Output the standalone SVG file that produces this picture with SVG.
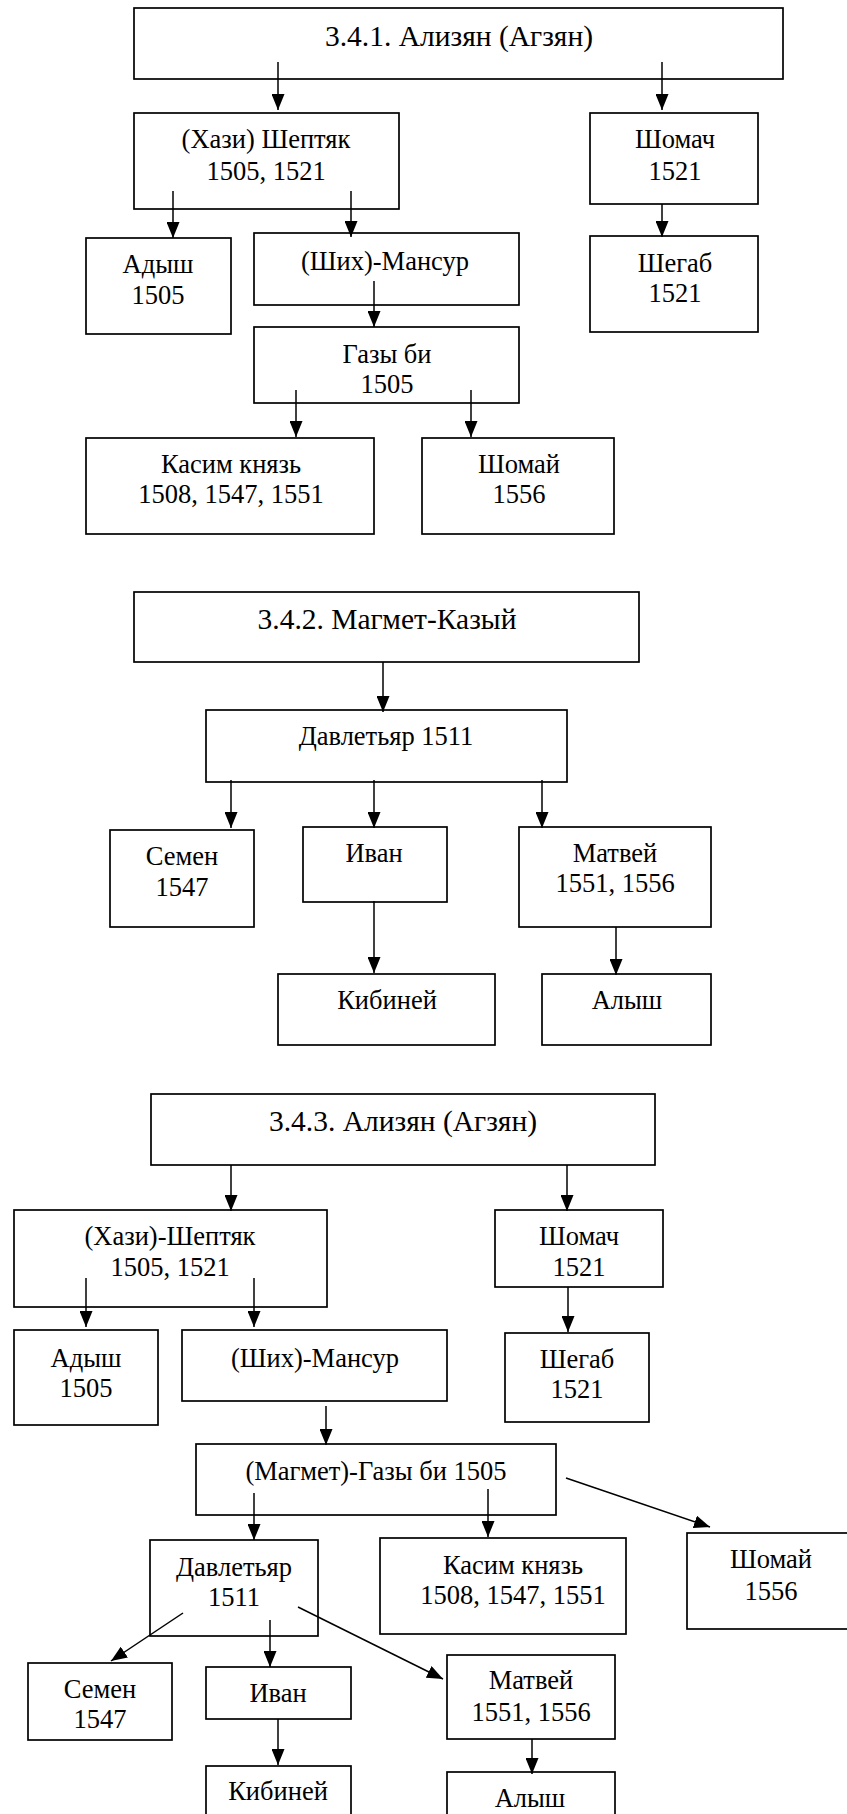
<svg xmlns="http://www.w3.org/2000/svg" width="847" height="1814" viewBox="0 0 847 1814">
<defs>
<marker id="ah" viewBox="0 0 16 13" refX="16" refY="6.5" markerWidth="16" markerHeight="13" markerUnits="userSpaceOnUse" orient="auto">
<path d="M0,0 L16,6.5 L0,13 z" fill="#000"/>
</marker>
<style>
rect{fill:#fff;stroke:#000;stroke-width:1.7}
text{font-family:'Liberation Serif',serif;font-size:26.5px;text-anchor:middle;fill:#000}
text.t{font-size:29.5px}
#connectors line{stroke:#000;stroke-width:1.5;marker-end:url(#ah)}
</style>
</defs>
<rect x="0" y="0" width="847" height="1814" style="fill:#fff;stroke:none"/>
<g font-family="Liberation Serif, serif">
<g id="n1"><rect x="134" y="8" width="649" height="71"/><text class="t" x="459" y="46">3.4.1. Ализян (Агзян)</text></g>
<g id="n2"><rect x="134" y="113" width="265" height="96"/><text x="266" y="148">(Хази) Шептяк</text><text x="266" y="180">1505, 1521</text></g>
<g id="n3"><rect x="590" y="113" width="168" height="91"/><text x="675" y="148">Шомач</text><text x="675" y="180">1521</text></g>
<g id="n4"><rect x="86" y="238" width="145" height="96"/><text x="158" y="273">Адыш</text><text x="158" y="304">1505</text></g>
<g id="n5"><rect x="254" y="233" width="265" height="72"/><text x="385" y="270">(Ших)-Мансур</text></g>
<g id="n6"><rect x="590" y="236" width="168" height="96"/><text x="675" y="272">Шегаб</text><text x="675" y="302">1521</text></g>
<g id="n7"><rect x="254" y="327" width="265" height="76"/><text x="387" y="363">Газы би</text><text x="387" y="393">1505</text></g>
<g id="n8"><rect x="86" y="438" width="288" height="96"/><text x="231" y="473">Касим князь</text><text x="231" y="503">1508, 1547, 1551</text></g>
<g id="n9"><rect x="422" y="438" width="192" height="96"/><text x="519" y="473">Шомай</text><text x="519" y="503">1556</text></g>

<g id="m1"><rect x="134" y="592" width="505" height="70"/><text class="t" x="387" y="629">3.4.2. Магмет-Казый</text></g>
<g id="m2"><rect x="206" y="710" width="361" height="72"/><text x="386" y="745">Давлетьяр 1511</text></g>
<g id="m3"><rect x="110" y="830" width="144" height="97"/><text x="182" y="865">Семен</text><text x="182" y="896">1547</text></g>
<g id="m4"><rect x="303" y="827" width="144" height="75"/><text x="374" y="862">Иван</text></g>
<g id="m5"><rect x="519" y="827" width="192" height="100"/><text x="615" y="862">Матвей</text><text x="615" y="892">1551, 1556</text></g>
<g id="m6"><rect x="278" y="974" width="217" height="71"/><text x="387" y="1009">Кибиней</text></g>
<g id="m7"><rect x="542" y="974" width="169" height="71"/><text x="627" y="1009">Алыш</text></g>

<g id="k1"><rect x="151" y="1094" width="504" height="71"/><text class="t" x="403" y="1131">3.4.3. Ализян (Агзян)</text></g>
<g id="k2"><rect x="14" y="1210" width="313" height="97"/><text x="170" y="1245">(Хази)-Шептяк</text><text x="170" y="1276">1505, 1521</text></g>
<g id="k3"><rect x="495" y="1210" width="168" height="77"/><text x="579" y="1245">Шомач</text><text x="579" y="1276">1521</text></g>
<g id="k4"><rect x="14" y="1330" width="144" height="95"/><text x="86" y="1367">Адыш</text><text x="86" y="1397">1505</text></g>
<g id="k5"><rect x="182" y="1330" width="265" height="71"/><text x="315" y="1367">(Ших)-Мансур</text></g>
<g id="k6"><rect x="505" y="1333" width="144" height="89"/><text x="577" y="1368">Шегаб</text><text x="577" y="1398">1521</text></g>
<g id="k7"><rect x="196" y="1444" width="360" height="71"/><text x="376" y="1480">(Магмет)-Газы би 1505</text></g>
<g id="k8"><rect x="150" y="1540" width="168" height="96"/><text x="234" y="1576">Давлетьяр</text><text x="234" y="1606">1511</text></g>
<g id="k9"><rect x="380" y="1538" width="246" height="96"/><text x="513" y="1574">Касим князь</text><text x="513" y="1604">1508, 1547, 1551</text></g>
<g id="k10"><rect x="687" y="1533" width="168" height="96"/><text x="771" y="1568">Шомай</text><text x="771" y="1600">1556</text></g>
<g id="k11"><rect x="28" y="1663" width="144" height="77"/><text x="100" y="1698">Семен</text><text x="100" y="1728">1547</text></g>
<g id="k12"><rect x="206" y="1667" width="145" height="52"/><text x="278" y="1702">Иван</text></g>
<g id="k13"><rect x="447" y="1655" width="168" height="84"/><text x="531" y="1689">Матвей</text><text x="531" y="1721">1551, 1556</text></g>
<g id="k14"><rect x="206" y="1766" width="145" height="60"/><text x="278" y="1800">Кибиней</text></g>
<g id="k15"><rect x="447" y="1772" width="168" height="54"/><text x="530" y="1807">Алыш</text></g>
</g>
<g id="connectors">
<line x1="278" y1="62" x2="278" y2="110"/>
<line x1="662" y1="62" x2="662" y2="110"/>
<line x1="173" y1="191" x2="173" y2="238"/>
<line x1="351" y1="191" x2="351" y2="237"/>
<line x1="662" y1="204" x2="662" y2="237"/>
<line x1="374" y1="281" x2="374" y2="327"/>
<line x1="296" y1="390" x2="296" y2="437"/>
<line x1="471" y1="390" x2="471" y2="437"/>

<line x1="383" y1="662" x2="383" y2="712"/>
<line x1="231" y1="780" x2="231" y2="828"/>
<line x1="374" y1="780" x2="374" y2="828"/>
<line x1="542" y1="780" x2="542" y2="828"/>
<line x1="374" y1="901" x2="374" y2="973"/>
<line x1="616" y1="927" x2="616" y2="975"/>

<line x1="231" y1="1165" x2="231" y2="1211"/>
<line x1="567" y1="1165" x2="567" y2="1211"/>
<line x1="86" y1="1278" x2="86" y2="1327"/>
<line x1="254" y1="1278" x2="254" y2="1327"/>
<line x1="568" y1="1287" x2="568" y2="1332"/>
<line x1="326" y1="1406" x2="326" y2="1445"/>
<line x1="254" y1="1493" x2="254" y2="1540"/>
<line x1="488" y1="1489" x2="488" y2="1537"/>
<line x1="566" y1="1478" x2="710" y2="1527"/>
<line x1="183" y1="1613" x2="111" y2="1661"/>
<line x1="270" y1="1620" x2="270" y2="1667"/>
<line x1="298" y1="1607" x2="443" y2="1679"/>
<line x1="278" y1="1719" x2="278" y2="1765"/>
<line x1="532" y1="1739" x2="532" y2="1774"/>
</g>
</svg>
